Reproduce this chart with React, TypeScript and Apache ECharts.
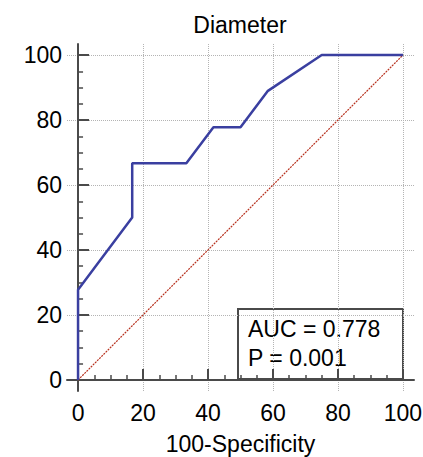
import React, { useEffect, useRef } from "react";
import * as echarts from "echarts";

const chartTitle = "Diameter";
const xAxisName = "100-Specificity";
const majorTicks = [0, 20, 40, 60, 80, 100];
const minorTicks = [5, 10, 15, 25, 30, 35, 45, 50, 55, 65, 70, 75, 85, 90, 95];
const rocX = [0, 0, 16.67, 16.67, 33.33, 41.67, 50, 58.33, 75, 100];
const rocY = [0, 27.78, 50, 66.67, 66.67, 77.78, 77.78, 88.89, 100, 100];
const refX = [0, 100];
const refY = [0, 100];
const aucText = "AUC = 0.778";
const pText = "P = 0.001";

const FONT = "Liberation Sans, Arial, sans-serif";
const AXIS_COLOR = "#4a4a4a";

export default function App() {
  const ref = useRef<HTMLDivElement>(null);
  useEffect(() => {
    if (!ref.current) return;
    const chart = echarts.init(ref.current, null, { renderer: "svg" });
    const lim = { min: -3.4, max: 103.4 };
    const majorAxis = (extra: any) => ({
      type: "value",
      ...lim,
      axisLine: { show: true, lineStyle: { color: AXIS_COLOR, width: 2 } },
      axisTick: {
        show: true,
        inside: true,
        length: 11,
        customValues: majorTicks,
        lineStyle: { color: AXIS_COLOR, width: 2 },
      },
      splitLine: {
        show: true,
        lineStyle: { color: "#b4b4b4", width: 1, type: "dotted" },
      },
      ...extra,
    });
    const minorAxis = (extra: any) => ({
      type: "value",
      ...lim,
      axisLine: { show: false },
      axisTick: {
        show: true,
        inside: true,
        length: 5,
        customValues: minorTicks,
        lineStyle: { color: AXIS_COLOR, width: 1.5 },
      },
      axisLabel: { show: false },
      splitLine: { show: false },
      ...extra,
    });
    chart.setOption({
      animation: false,
      backgroundColor: "#fff",
      title: {
        text: chartTitle,
        left: 240,
        top: 13,
        padding: 0,
        textAlign: "center",
        textStyle: { fontSize: 23, fontWeight: "normal", color: "#000", fontFamily: FONT },
      },
      grid: {
        left: 67,
        right: 9,
        top: 44,
        bottom: 66,
        containLabel: false,
        outerBoundsMode: "none",
      },
      xAxis: [
        majorAxis({
          position: "bottom",
          axisLabel: {
            customValues: majorTicks,
            color: "#000",
            fontSize: 23,
            fontFamily: FONT,
            margin: 10,
          },
          name: xAxisName,
          nameLocation: "middle",
          nameGap: 41,
          nameTextStyle: { fontSize: 23, color: "#000", fontFamily: FONT },
        }),
        minorAxis({ position: "bottom" }),
      ],
      yAxis: [
        majorAxis({
          position: "left",
          axisLabel: {
            customValues: majorTicks,
            color: "#000",
            fontSize: 23,
            fontFamily: FONT,
            margin: 5,
          },
        }),
        minorAxis({ position: "left" }),
      ],
      series: [
        {
          type: "line",
          xAxisIndex: 0,
          yAxisIndex: 0,
          data: refX.map((x, i) => [x, refY[i]]),
          symbol: "none",
          lineStyle: { color: "#b8321f", width: 1.2, type: [2, 1] },
          z: 2,
        },
        {
          type: "line",
          xAxisIndex: 0,
          yAxisIndex: 0,
          data: rocX.map((x, i) => [x, rocY[i]]),
          symbol: "none",
          lineStyle: { color: "#3a3fa0", width: 2.5 },
          z: 3,
        },
      ],
      graphic: [
        {
          type: "group",
          z: 100,
          children: [
            {
              type: "rect",
              shape: { x: 238, y: 309, width: 165, height: 70 },
              style: { fill: "#fff", stroke: AXIS_COLOR, lineWidth: 2 },
            },
            {
              type: "text",
              x: 248,
              y: 317,
              style: { text: aucText, fontSize: 23, fontFamily: FONT, fill: "#000" },
            },
            {
              type: "text",
              x: 248,
              y: 346,
              style: { text: pText, fontSize: 23, fontFamily: FONT, fill: "#000" },
            },
          ],
        },
      ],
    });
    return () => chart.dispose();
  }, []);
  return (
    <div
      ref={ref}
      style={{ position: "fixed", left: 0, top: 0, width: 423, height: 457 }}
    />
  );
}
